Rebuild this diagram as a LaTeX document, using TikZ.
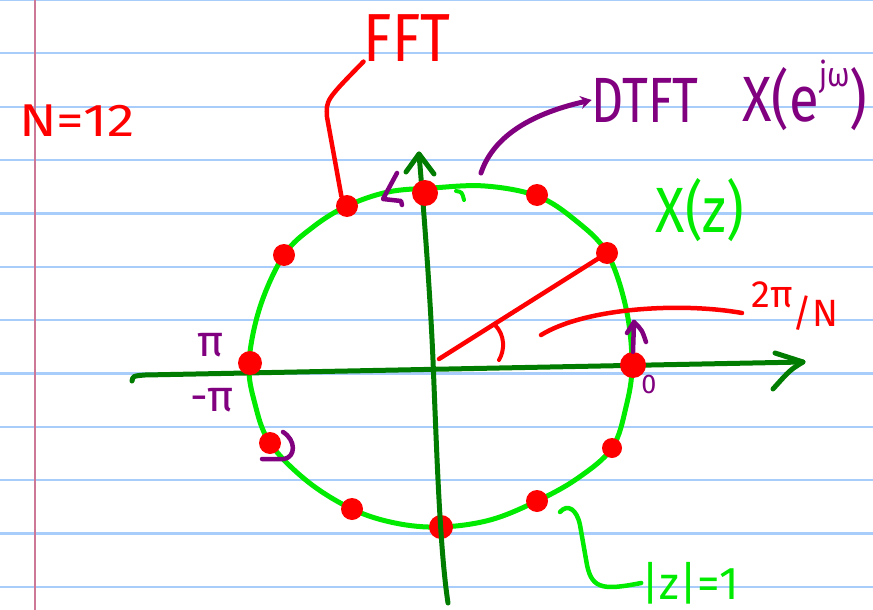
\documentclass[tikz,border=0pt]{standalone}
\usepackage{fontspec}
\newfontfamily\hand{Fira Sans}
\usetikzlibrary{arrows.meta}
\definecolor{cgreen}{RGB}{0,235,0}
\definecolor{dgreen}{RGB}{0,125,0}
\definecolor{pur}{RGB}{128,0,128}
\definecolor{ruleblue}{RGB}{168,205,250}
\definecolor{marginred}{RGB}{205,120,150}
\tikzset{
  dot/.style={circle, fill=red, inner sep=0pt, minimum size=#1},
  dot/.default=22pt,
  txt/.style={font=\hand, inner sep=0pt, anchor=center},
  pen/.style={line width=#1, line cap=round, line join=round},
  pen/.default=5pt,
}
\begin{document}
\begin{tikzpicture}[x=1pt,y=-1pt]
\useasboundingbox (0,0) rectangle (873,610);
\fill[white] (0,0) rectangle (873,610);
% notebook paper
\foreach \k in {0,...,11} {
  \draw[ruleblue, line width=2.2pt] (0,{53.35*\k}) -- (873,{53.35*\k});
}
\draw[marginred, line width=1.5pt] (35,0) -- (35,610);

% unit circle (hand drawn)
\draw[cgreen, pen=5pt] plot[smooth cycle, tension=0.6] coordinates
  {(432,188) (485,186) (537,196) (575,220) (607,253) (626,308) (632,365)
   (626,407) (612,448) (578,478) (537,501) (490,520) (440,527) (395,523)
   (352,509) (307,481) (270,443) (255,404) (249,363) (260,307) (284,255)
   (313,227) (347,206) (388,192)};

% bottom dot under the axis
\node[dot=24pt] (d7) at (441,527) {};

% axes
\coordinate (hL) at (132,381);
\coordinate (hR) at (803,362);
\draw[dgreen, pen=5pt] (hL) .. controls (133,376) .. (145,375) -- (hR);
\draw[dgreen, pen=5pt] (775,353) -- (hR) .. controls (790,370) .. (773,389);
\coordinate (vB) at (448,603);
\coordinate (vT) at (419,154);
\draw[dgreen, pen=5pt] (vB) .. controls (440,550) and (437,460) .. (433,360)
  .. controls (430,290) and (423,200) .. (vT);
\draw[dgreen, pen=5pt] (406,172) -- (vT) -- (434,174);

% sample points
\node[dot=26pt] (d1) at (425,193) {};
\node[dot] (d2) at (537,195) {};
\node[dot] (d3) at (607,253) {};
\node[dot=26pt] (d4) at (633,365) {};
\node[dot=20pt] (d5) at (612,448) {};
\node[dot] (d6) at (537,501) {};
\node[dot] (d8) at (352,509) {};
\node[dot] (d9) at (270,443) {};
\node[dot=24pt] (d10) at (250,363) {};
\node[dot] (d11) at (284,255) {};
\node[dot] (d12) at (347,206) {};

% radius and angle
\coordinate (O) at (439,359);
\draw[red, pen=4.5pt] (O) -- (d3.center);
\draw[red, pen=4pt] (495,325) .. controls (505,335) and (505,350) .. (499,360);

% labels
\node[txt, red, font=\hand\fontsize{46}{46}\selectfont, xscale=1.2] (n12) at (77,121) {N=12};
\node[txt, red, font=\hand\fontsize{68}{68}\selectfont, xscale=0.85] (fft) at (407,38) {FFT};
\node[txt, pur, font=\hand\fontsize{64}{64}\selectfont, xscale=0.78] (dtft) at (645,100) {DTFT};
\node[txt, pur, font=\hand\fontsize{64}{64}\selectfont, xscale=0.85] (xejw) at (805,95) {X(e\raisebox{0.55em}{\fontsize{34}{34}\selectfont jω})};
\node[txt, cgreen, font=\hand\fontsize{64}{64}\selectfont, xscale=0.85] (xz) at (700,210) {X(z)};
\node[txt, red, font=\hand\fontsize{38}{38}\selectfont] (twopin) at (795,306) {2π\raisebox{-0.5em}{/N}};
\node[txt, pur, font=\hand\fontsize{44}{44}\selectfont] (pi) at (211,345) {π};
\node[txt, pur, font=\hand\fontsize{44}{44}\selectfont] (mpi) at (212,400) {-π};
\node[txt, pur, font=\hand\fontsize{27}{27}\selectfont] (zero) at (649,384) {0};
\node[txt, cgreen, font=\hand\fontsize{46}{46}\selectfont, xscale=0.98] (zeq1) at (690,583) {|z|=1};

% FFT leader
\draw[red, pen=4.5pt] (d12.120) -- (327,117) .. controls (326,100) .. (fft.south west);
% DTFT arrow
\coordinate (a1) at (481,173);
\draw[pur, pen=5pt, -{Stealth[length=11pt,width=13pt]}] (a1) .. controls (492,140) and (525,115) .. (dtft.west);
% 2pi/N leader
\draw[red, pen=4.5pt] (541,335) .. controls (585,308) and (680,302) .. (742,313);
% |z|=1 leader
\coordinate (g1) at (560,512);
\draw[cgreen, pen=4.5pt] (g1) .. controls (568,503) and (577,510) .. (580,525)
  -- (587,565) .. controls (592,590) and (605,590) .. (zeq1.west);

% direction marks
\draw[pur, pen=4.5pt] (397,173) -- (383,199) -- (401,201) -- (402,205);
\draw[cgreen, pen=4pt] (456,191) .. controls (462,192) .. (464,200);
\draw[pur, pen=4.5pt] (d4.north) -- (634,322);
\draw[pur, pen=4.5pt] (627,333) -- (634,322) .. controls (642,330) .. (646,342);
\draw[pur, pen=4.5pt] (283,432) .. controls (296,440) and (296,457) .. (284,459) -- (262,459);
\end{tikzpicture}
\end{document}
